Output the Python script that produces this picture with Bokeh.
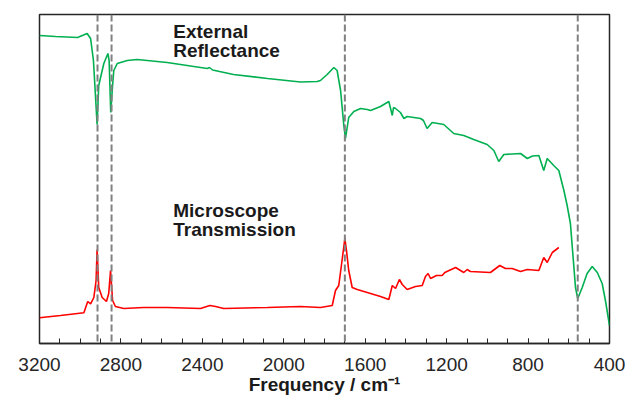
from bokeh.plotting import figure
from bokeh.models import Range1d, FixedTicker, Span, Label
from bokeh.embed import file_html
from bokeh.resources import INLINE

# External reflectance spectrum (frequency in cm-1, intensity in arbitrary units)
refl_freq = [3200, 3121, 3013, 2966, 2949, 2935, 2917, 2909, 2900, 2884, 2864, 2858,
             2850, 2841, 2835, 2818, 2769, 2720, 2573, 2376, 2365, 2350, 2247, 2080,
             1918, 1836, 1820, 1787, 1754, 1738, 1721, 1705, 1697, 1681, 1656, 1623,
             1590, 1574, 1525, 1484, 1467, 1461, 1451, 1427, 1410, 1394, 1328, 1314,
             1296, 1271, 1214, 1165, 1116, 1067, 1001, 968, 944, 919, 837, 804, 778,
             747, 723, 706, 674, 649, 624, 608, 592, 567, 556, 534, 510, 485, 460,
             436, 420, 400]
refl_val = [308, 307, 306, 310, 305, 283, 219, 258, 266, 280, 290, 283,
            231, 258, 273, 280, 283, 284, 281, 275, 276, 273.5, 269, 265,
            261.5, 262, 263, 269, 276, 273, 253, 218, 205, 226, 232, 235,
            234, 233, 237, 242, 228, 236, 235, 231, 225, 227, 225, 223,
            215, 221, 219, 210, 208, 204, 199, 193, 182, 189, 190, 185, 187.5,
            188, 173, 185, 178, 173, 153, 138, 120, 56, 45, 56, 70, 77, 71,
            60, 43, 18]

# Microscope transmission spectrum
trans_freq = [3200, 3097, 2982, 2963, 2949, 2933, 2922, 2917, 2909, 2892, 2871, 2860,
              2851, 2841, 2827, 2786, 2688, 2573, 2409, 2363, 2335, 2295, 2081, 1918,
              1820, 1762, 1746, 1730, 1717, 1700, 1692, 1681, 1664, 1639, 1590, 1525,
              1484, 1467, 1451, 1432, 1418, 1394, 1353, 1320, 1304, 1291, 1279, 1250,
              1222, 1209, 1156, 1116, 1099, 1083, 985, 939, 911, 878, 837, 804, 747,
              723, 706, 681, 649]
trans_val = [25.7, 28, 30.7, 42, 39.7, 46, 63, 94, 56, 46, 42, 50,
             73, 43, 37, 35, 36, 36, 35, 38, 37, 35, 36, 37,
             36, 38, 53, 58, 78, 105, 93, 73, 56, 54, 51, 47,
             44, 58, 55, 64, 59, 54, 57, 58, 67, 70, 65, 68,
             68, 71, 76, 71, 74, 72, 71, 78, 75, 75, 72, 74, 73,
             86, 81, 91, 96]

# Marked band positions (cm-1)
band_positions = [2915, 2846, 1700, 556]

x_ticks = [3200, 2800, 2400, 2000, 1600, 1200, 800, 400]
x_minor = list(range(400, 3201, 100))

p = figure(width=626, height=400, output_backend="svg", toolbar_location=None,
           x_range=Range1d(3200, 400), y_range=Range1d(0, 329),
           min_border_left=39, min_border_right=17, min_border_top=14,
           min_border_bottom=57)

p.background_fill_color = "white"
p.border_fill_color = "white"
p.outline_line_color = "#262626"
p.outline_line_width = 1.5
p.grid.visible = False
p.yaxis.visible = False

ax = p.xaxis[0]
ax.ticker = FixedTicker(ticks=x_ticks, minor_ticks=x_minor)
ax.major_tick_in = 5
ax.major_tick_out = 0
ax.minor_tick_in = 5
ax.minor_tick_out = 0
ax.major_tick_line_color = "#262626"
ax.minor_tick_line_color = "#262626"
ax.axis_line_color = "#262626"
ax.axis_line_width = 1.5
ax.major_label_text_font = "Liberation Sans"
ax.major_label_text_font_size = "19px"
ax.major_label_text_color = "#262626"
ax.major_label_standoff = 14
ax.axis_label = "Frequency / cm\u207b\u00b9"
ax.axis_label_text_font = "Liberation Sans"
ax.axis_label_text_font_size = "19px"
ax.axis_label_text_font_style = "bold"
ax.axis_label_text_color = "#1a1a1a"
ax.axis_label_standoff = 0

for pos in band_positions:
    p.add_layout(Span(location=pos, dimension="height", line_color="#808080",
                      line_width=2, line_dash="7 3"))

p.line(refl_freq, refl_val, line_color="#00B050", line_width=1.6)
p.line(trans_freq, trans_val, line_color="#FF0000", line_width=1.6)

label_lines = [("External", 312), ("Reflectance", 293.3),
               ("Microscope", 133.3), ("Transmission", 113.7)]
for txt, yv in label_lines:
    p.add_layout(Label(x=2543, y=yv, text=txt, text_font="Liberation Sans",
                       text_font_size="19px", text_font_style="bold",
                       text_color="#1a1a1a", text_baseline="alphabetic",
                       text_align="left"))

open("out.html", "w").write(file_html(p, INLINE))
